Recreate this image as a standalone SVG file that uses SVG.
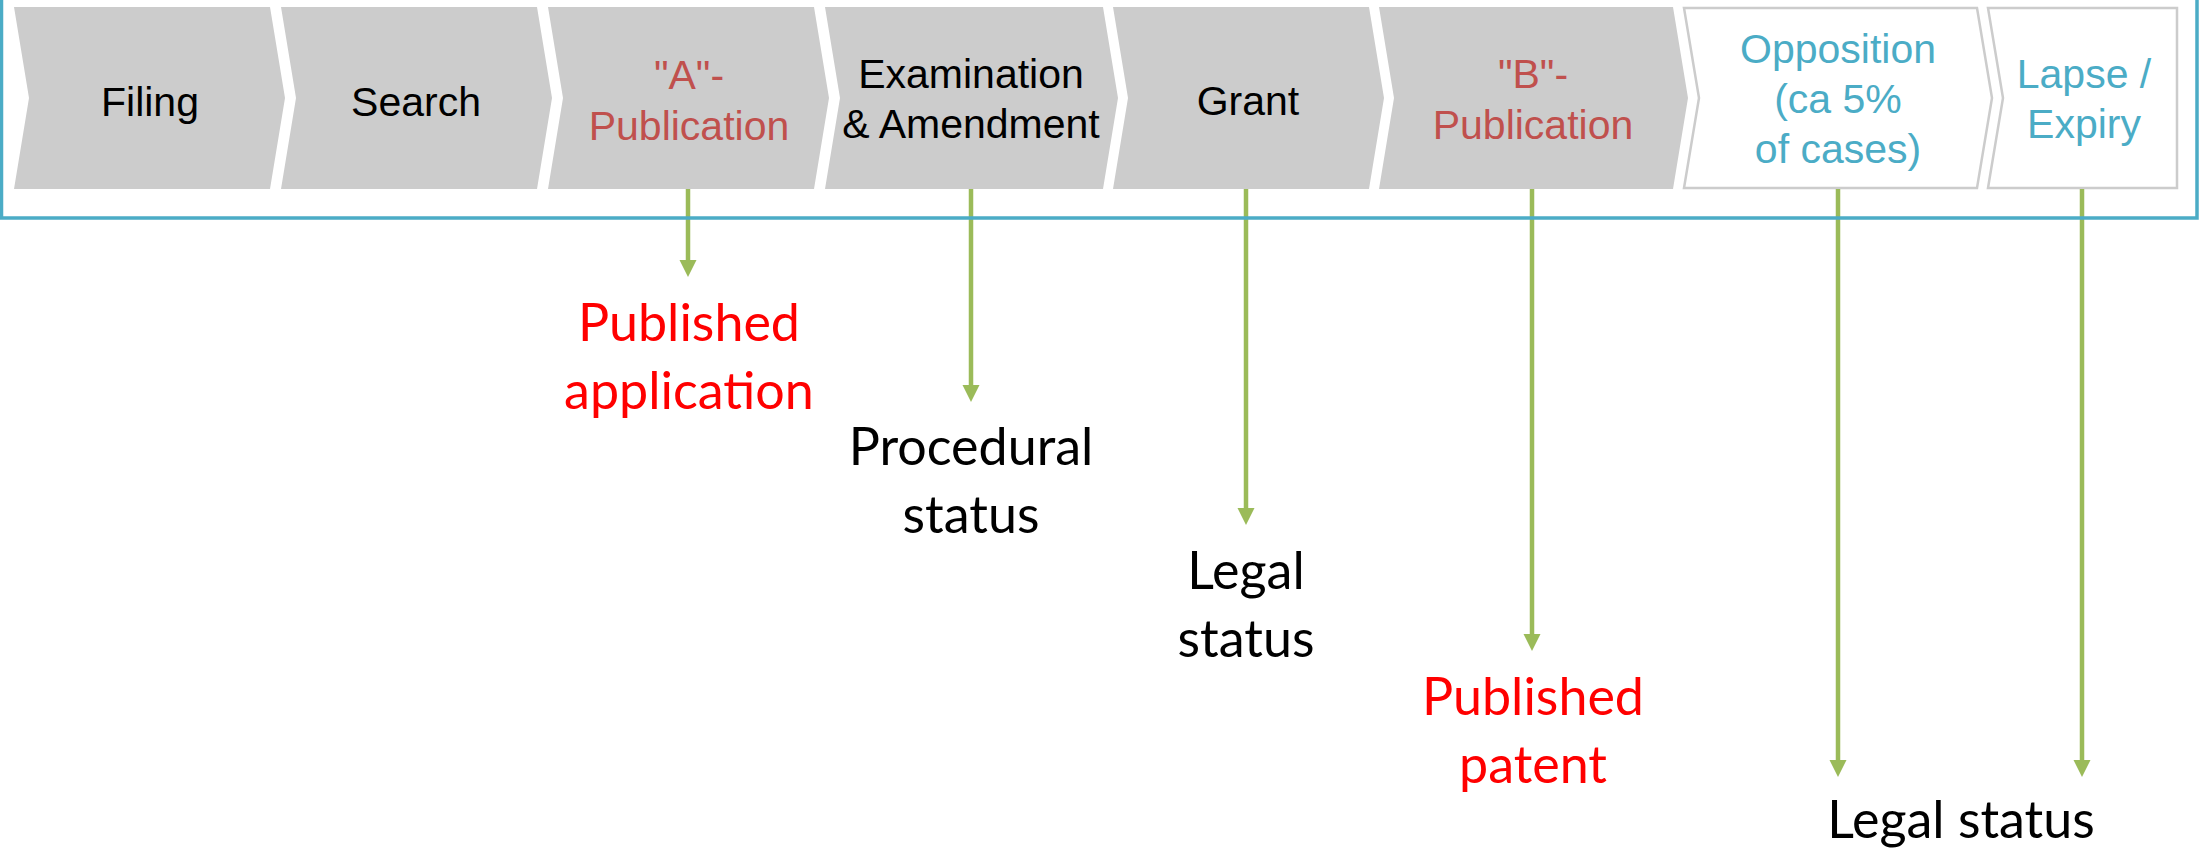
<svg xmlns="http://www.w3.org/2000/svg" width="2208" height="850" viewBox="0 0 2208 850">
<style>
.chev{fill:#CCCCCC;stroke:none}
.chevo{fill:#FFFFFF;stroke:#CCCCCC;stroke-width:2.5}
.t{font-family:"Liberation Sans",Arial,sans-serif;font-size:41px;text-anchor:middle}
.blk{fill:#000000}
.red{fill:#C0504D}
.teal{fill:#4BACC6}
.lbl{font-family:Lato,"Open Sans",sans-serif;font-size:52px;text-anchor:middle}
.lred{fill:#FF0000}
.conn{stroke:#9BBB59;stroke-width:4.5;fill:none}
</style>
<defs>
<marker id="ah" markerUnits="userSpaceOnUse" markerWidth="17" markerHeight="18" viewBox="0 -9 17 18" refX="0" refY="0" orient="auto">
<path d="M0,-8.5 L17,0 L0,8.5 z" fill="#9BBB59"/>
</marker>
</defs>
<rect width="2208" height="850" fill="#FFFFFF"/>

<g id="filing">
<path class="chev" d="M14,7 H270 L285,98 L270,189 H14 L29,98 Z"/>
<text class="t blk" x="150" y="116">Filing</text>
</g>
<g id="search">
<path class="chev" d="M281,7 H537 L552,98 L537,189 H281 L296,98 Z"/>
<text class="t blk" x="416" y="116">Search</text>
</g>
<g id="a-publication">
<path class="chev" d="M548,7 H814 L829,98 L814,189 H548 L563,98 Z"/>
<text class="t red" x="689" y="89">"A"-</text>
<text class="t red" x="689" y="140">Publication</text>
</g>
<g id="examination">
<path class="chev" d="M825,7 H1103 L1118,98 L1103,189 H825 L840,98 Z"/>
<text class="t blk" x="971" y="88">Examination</text>
<text class="t blk" x="971" y="138">&amp; Amendment</text>
</g>
<g id="grant">
<path class="chev" d="M1113,7 H1369 L1384,98 L1369,189 H1113 L1128,98 Z"/>
<text class="t blk" x="1248" y="115">Grant</text>
</g>
<g id="b-publication">
<path class="chev" d="M1379,7 H1673 L1688,98 L1673,189 H1379 L1394,98 Z"/>
<text class="t red" x="1533" y="88">"B"-</text>
<text class="t red" x="1533" y="139">Publication</text>
</g>
<g id="opposition">
<path class="chevo" d="M1684,8 H1977 L1992,98 L1977,188 H1684 L1699,98 Z"/>
<text class="t teal" x="1838" y="63">Opposition</text>
<text class="t teal" x="1838" y="113">(ca 5%</text>
<text class="t teal" x="1838" y="163">of cases)</text>
</g>
<g id="lapse">
<path class="chevo" d="M1988,8 H2177 V188 H1988 L2003,98 Z"/>
<text class="t teal" x="2084" y="88">Lapse /</text>
<text class="t teal" x="2084" y="138">Expiry</text>
</g>

<g id="connectors">
<line class="conn" x1="688" y1="189" x2="688" y2="260" marker-end="url(#ah)"/>
<line class="conn" x1="971" y1="189" x2="971" y2="385" marker-end="url(#ah)"/>
<line class="conn" x1="1246" y1="189" x2="1246" y2="508" marker-end="url(#ah)"/>
<line class="conn" x1="1532" y1="189" x2="1532" y2="634" marker-end="url(#ah)"/>
<line class="conn" x1="1838" y1="189" x2="1838" y2="760" marker-end="url(#ah)"/>
<line class="conn" x1="2082" y1="189" x2="2082" y2="760" marker-end="url(#ah)"/>
</g>

<g id="frame">
<path d="M1.5,-5 V218 H2197 V-5" fill="none" stroke="#4BACC6" stroke-width="3.5"/>
</g>

<g id="label-published-application">
<text class="lbl lred" x="689" y="341">Published</text>
<text class="lbl lred" x="689" y="409">application</text>
</g>
<g id="label-procedural-status">
<text class="lbl blk" x="971" y="465">Procedural</text>
<text class="lbl blk" x="971" y="533">status</text>
</g>
<g id="label-legal-status-1">
<text class="lbl blk" x="1246" y="589">Legal</text>
<text class="lbl blk" x="1246" y="657">status</text>
</g>
<g id="label-published-patent">
<text class="lbl lred" x="1533" y="715">Published</text>
<text class="lbl lred" x="1533" y="783">patent</text>
</g>
<g id="label-legal-status-2">
<text class="lbl blk" x="1961" y="838">Legal status</text>
</g>
</svg>
